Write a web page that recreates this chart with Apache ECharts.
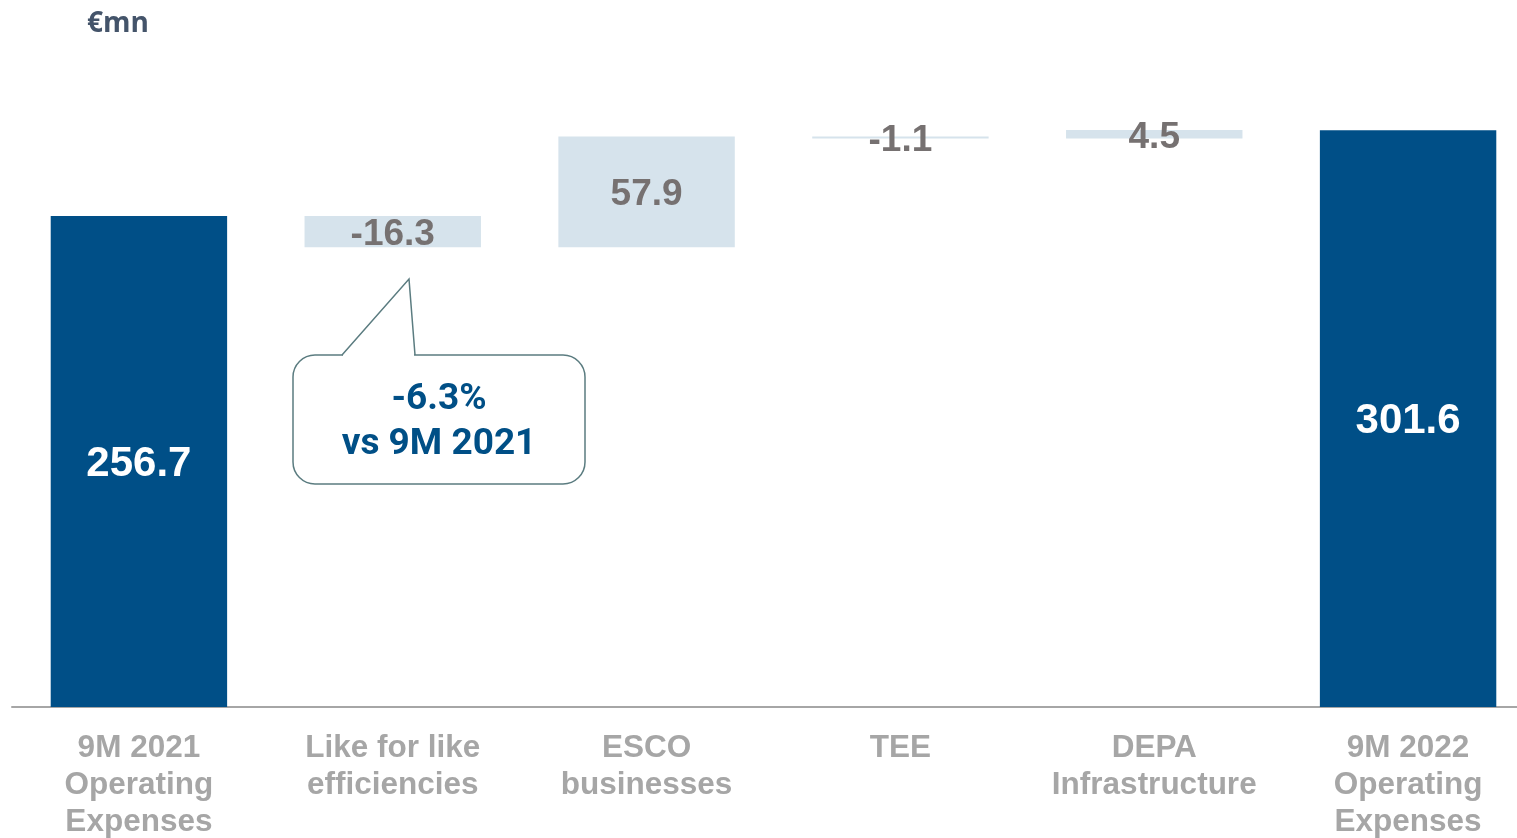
<!DOCTYPE html>
<html>
<head>
<meta charset="utf-8">
<style>html,body{margin:0;padding:0;background:#fff;}#c{width:1517px;height:838px;}</style>
<script src="https://cdn.jsdelivr.net/npm/echarts@6/dist/echarts.min.js"></script>
</head>
<body>
<div id="c"></div>
<script>
var categories = ['9M 2021\nOperating\nExpenses', 'Like for like\nefficiencies', 'ESCO\nbusinesses', 'TEE', 'DEPA\nInfrastructure', '9M 2022\nOperating\nExpenses'];
var startTotal = 256.7;
var deltas = [-16.3, 57.9, -1.1, 4.5];
var endTotal = 301.6;
var unitLabel = '€mn';
var calloutLines = ['-6.3%', 'vs 9M 2021'];

// build waterfall base / height arrays from the data
var base = [0], heights = [startTotal], labels = [startTotal], kinds = ['total'];
var run = startTotal;
deltas.forEach(function (d) {
  var next = run + d;
  base.push(Math.min(run, next));
  heights.push(Math.abs(d));
  labels.push(d);
  kinds.push('delta');
  run = next;
});
base.push(0); heights.push(endTotal); labels.push(endTotal); kinds.push('total');

var DARK = '#004f87', LIGHT = '#d6e3ec', CALLOUT = '#5b7c80';

var chart = echarts.init(document.getElementById('c'));
chart.setOption({
  animation: false,
  grid: { left: 12, top: 95, right: -18, bottom: 131, containLabel: false, outerBoundsMode: 'none' },
  xAxis: {
    type: 'category',
    data: categories,
    axisLine: { lineStyle: { color: '#a6a6a6', width: 2 } },
    axisTick: { show: false },
    axisLabel: {
      interval: 0, margin: 23,
      color: '#a6a6a6', fontFamily: 'Liberation Sans', fontWeight: 'bold', fontSize: 31.5, lineHeight: 37
    }
  },
  yAxis: { type: 'value', min: 0, max: 320, show: false, splitLine: { show: false } },
  graphic: [
    { type: 'text', x: 87, y: 10, style: { text: unitLabel, fill: '#44546a', font: 'bold 28px "Open Sans"' } },
    { type: 'rect', shape: { x: 293, y: 355, width: 292, height: 129, r: 22 }, style: { fill: '#fff', stroke: CALLOUT, lineWidth: 1.5 } },
    { type: 'line', shape: { x1: 343, y1: 355, x2: 414, y2: 355 }, style: { stroke: '#fff', lineWidth: 3 } },
    { type: 'polyline', shape: { points: [[342, 355], [409, 279], [415, 355]] }, style: { fill: null, stroke: CALLOUT, lineWidth: 1.5 } },
    { type: 'text', x: 439, y: 400, style: { text: calloutLines[0], fill: '#004f86', font: 'bold 37px Roboto', align: 'center', verticalAlign: 'middle' } },
    { type: 'text', x: 439, y: 445, style: { text: calloutLines[1], fill: '#004f86', font: 'bold 37px Roboto', align: 'center', verticalAlign: 'middle' } }
  ],
  series: [
    {
      type: 'bar', stack: 'w', barWidth: '69.5%', silent: true,
      itemStyle: { color: 'transparent' },
      data: base
    },
    {
      type: 'bar', stack: 'w', barWidth: '69.5%',
      data: heights.map(function (h, i) {
        var total = kinds[i] === 'total';
        return {
          value: h,
          itemStyle: { color: total ? DARK : LIGHT },
          label: {
            show: true, position: 'inside', offset: [0, 3],
            formatter: labels[i].toFixed(1),
            color: total ? '#ffffff' : '#767171',
            fontFamily: 'Liberation Sans', fontWeight: 'bold',
            fontSize: total ? 42 : 37
          }
        };
      })
    }
  ]
});
</script>
</body>
</html>
